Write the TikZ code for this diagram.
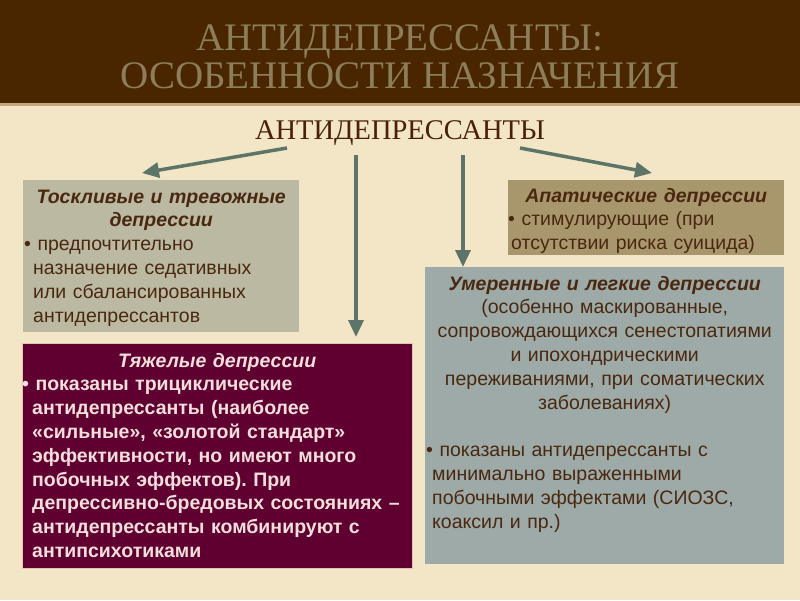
\documentclass[tikz,border=0pt]{standalone}
\usepackage{fontspec}
\setmainfont{Liberation Sans}
\newfontfamily\titlefont{Liberation Serif}
\usetikzlibrary{arrows.meta}
\frenchspacing
\definecolor{band}{HTML}{4A2600}
\definecolor{bandline}{HTML}{C9A57C}
\definecolor{bg}{HTML}{F3E6C6}
\definecolor{titlecol}{HTML}{8C7E5A}
\definecolor{subcol}{HTML}{4A200A}
\definecolor{arrowcol}{HTML}{5D7568}
\definecolor{fillA}{HTML}{BCB9A3}
\definecolor{fillB}{HTML}{A8976C}
\definecolor{fillC}{HTML}{600030}
\definecolor{fillD}{HTML}{9DAAA7}
\definecolor{txtdark}{HTML}{4A2810}
\definecolor{txtlight}{HTML}{F2DEDA}
\begin{document}
\begin{tikzpicture}[x=1pt,y=-1pt,
  panel/.style={rectangle, inner sep=0pt, outer sep=0pt, anchor=north west},
  paneltext/.style={anchor=base west, inner sep=0pt, align=left,
    font=\fontsize{19.5}{23.8}\selectfont},
  conn/.style={draw=arrowcol, line width=3.5pt, -{Triangle[length=17pt,width=15pt]}},
  titletext/.style={font=\titlefont\fontsize{39}{38}\selectfont, text=titlecol, anchor=base, inner sep=0pt}
]
\useasboundingbox (0,0) rectangle (800,600);
\fill[bg] (0,0) rectangle (800,600);
\fill[band] (0,0) rectangle (800,103);
\fill[bandline] (0,103) rectangle (800,105.5);

% titles
\node[titletext] (t1) at (400,50) {АНТИДЕПРЕССАНТЫ:};
\node[titletext] (t2) at (400,88) {ОСОБЕННОСТИ НАЗНАЧЕНИЯ};
\node[font=\titlefont\fontsize{28.5}{30}\selectfont, text=subcol, anchor=base, inner sep=0pt] (sub) at (400,139) {АНТИДЕПРЕССАНТЫ};

% panels
\node[panel, fill=fillA, minimum width=276pt, minimum height=152pt] (boxA) at (23,180) {};
\node[panel, fill=fillB, minimum width=276pt, minimum height=75pt] (boxB) at (508,180) {};
\node[panel, fill=fillC, draw={rgb,255:red,225;green,195;blue,185}, line width=0.8pt, minimum width=390pt, minimum height=225pt] (boxC) at (22,343) {};
\node[panel, fill=fillD, minimum width=359pt, minimum height=297pt] (boxD) at (425,267) {};

% arrows
\coordinate (a1s) at (287,148); \coordinate (a1e) at (142,173);
\coordinate (a2s) at (356,155); \coordinate (a2e) at (356,337);
\coordinate (a3s) at (463,155); \coordinate (a3e) at (463,267);
\coordinate (a4s) at (520,148); \coordinate (a4e) at (652,173);
\draw[conn] (a1s) -- (a1e);
\draw[conn] (a2s) -- (a2e);
\draw[conn] (a3s) -- (a3e);
\draw[conn] (a4s) -- (a4e);

% panel texts
\node[paneltext, text width=276pt, text=txtdark] (tA) at (23,203) {%
\makebox[\linewidth]{\bfseries\itshape Тоскливые и тревожные}\\
\makebox[\linewidth]{\bfseries\itshape депрессии}\\
\hspace*{1pt}• предпочтительно\\
\hspace*{10pt}назначение седативных\\
\hspace*{10pt}или сбалансированных\\
\hspace*{10pt}антидепрессантов};

\node[paneltext, text width=276pt, text=txtdark] (tB) at (508,202) {%
\makebox[\linewidth]{\bfseries\itshape Апатические депрессии}\\
\hspace*{0pt}• стимулирующие (при\\
\hspace*{3pt}отсутствии риска суицида)};

\node[paneltext, text width=390pt, text=txtlight, font=\fontsize{19.5}{23.8}\selectfont\bfseries] (tC) at (22,367) {%
\makebox[\linewidth]{\itshape Тяжелые депрессии}\\
\hspace*{0pt}• показаны трициклические\\
\hspace*{10pt}антидепрессанты (наиболее\\
\hspace*{10pt}«сильные», «золотой стандарт»\\
\hspace*{10pt}эффективности, но имеют много\\
\hspace*{10pt}побочных эффектов). При\\
\hspace*{10pt}депрессивно-бредовых состояниях –\\
\hspace*{10pt}антидепрессанты комбинируют с\\
\hspace*{10pt}антипсихотиками};

\node[paneltext, text width=359pt, text=txtdark] (tD) at (425,290) {%
\makebox[\linewidth]{\bfseries\itshape Умеренные и легкие депрессии}\\
\makebox[\linewidth]{(особенно маскированные,}\\
\makebox[\linewidth]{сопровождающихся сенестопатиями}\\
\makebox[\linewidth]{и ипохондрическими}\\
\makebox[\linewidth]{переживаниями, при соматических}\\
\makebox[\linewidth]{заболеваниях)}\\[23.8pt]
\hspace*{1pt}• показаны антидепрессанты с\\
\hspace*{7pt}минимально выраженными\\
\hspace*{7pt}побочными эффектами (СИОЗС,\\
\hspace*{7pt}коаксил и пр.)};
\end{tikzpicture}
\end{document}
